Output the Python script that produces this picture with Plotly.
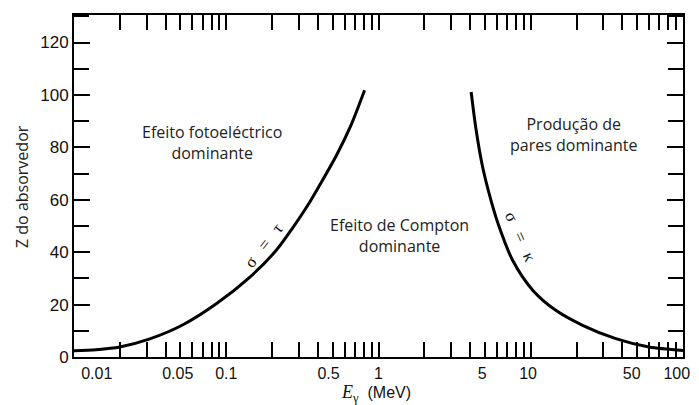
import plotly.graph_objects as go

# ---- data ----
# sigma = tau boundary (photoelectric / Compton)
photo_E = [0.01, 0.014, 0.02, 0.0315, 0.052, 0.086, 0.143, 0.213, 0.274, 0.344, 0.41, 0.53, 0.66, 0.81]
photo_Z = [2.4, 2.8, 3.8, 6.9, 12.3, 20.3, 30.5, 40.7, 49.4, 58.0, 65.5, 77.0, 88.5, 101.8]

# sigma = kappa boundary (Compton / pair production)
pair_E = [4.06, 4.38, 4.83, 5.48, 6.21, 7.6, 10.3, 14.6, 21.9, 36.2, 59.8, 100]
pair_Z = [101.1, 86.5, 72.5, 59.8, 49.6, 36.9, 25.5, 17.8, 12.1, 7.0, 3.8, 2.5]

# axis ticks
x_tick_vals = [m * 10.0 ** d for d in range(-2, 2) for m in range(1, 10)] + [100]
x_tick_labels = ["0.01", "0.05", "0.1", "0.5", "1", "5", "10", "50", "100"]
x_label_pos = [0.0141, 0.048, 0.1, 0.47, 1, 4.8, 9.6, 46, 91]
y_tick_vals = [0, 20, 40, 60, 80, 100, 120]
y_tick_labels = [str(v) for v in y_tick_vals]

region_labels = ["Efeito fotoeléctrico<br>dominante",
                 "Efeito de Compton<br>dominante",
                 "Produção de<br>pares dominante"]
curve_labels = ["σ   =   τ", "σ   =   κ"]
x_title = ("<span style='font-family:Liberation Serif;font-size:18px'><i>E</i><sub>γ</sub></span>"
           "  (MeV)")
y_title = "Z do absorvedor"

fig = go.Figure()
fig.add_trace(go.Scatter(x=photo_E, y=photo_Z, mode="lines",
                         line=dict(color="black", width=3, shape="spline", smoothing=0.8),
                         showlegend=False, hoverinfo="skip"))
fig.add_trace(go.Scatter(x=pair_E, y=pair_Z, mode="lines",
                         line=dict(color="black", width=3, shape="spline", smoothing=0.8),
                         showlegend=False, hoverinfo="skip"))
# invisible trace so the label axis is drawn
fig.add_trace(go.Scatter(x=[0.01, 100], y=[0, 0], xaxis="x2", mode="lines", opacity=0,
                         showlegend=False, hoverinfo="skip"))

tick_font = dict(family="Liberation Sans, Arial", size=17, color="#111")
xtick_font = dict(family="Liberation Sans, Arial", size=16, color="#111")
# the page body has an 8px margin, so the figure is shrunk by 8px and margins shifted
fig.update_layout(
    width=691, height=397,
    margin=dict(l=66, r=16, t=7, b=48),
    plot_bgcolor="white", paper_bgcolor="white",
    xaxis=dict(type="log", range=[-2, 2], showgrid=False, zeroline=False, automargin=False,
               showline=True, linecolor="black", linewidth=2, mirror="ticks",
               ticks="inside", ticklen=15, tickwidth=1.5, tickcolor="black",
               tickmode="array", tickvals=x_tick_vals, showticklabels=False),
    xaxis2=dict(type="log", range=[-2, 2], overlaying="x", side="bottom", anchor="y",
                showgrid=False, zeroline=False, showline=False, automargin=False,
                ticks="outside", ticklen=2, tickcolor="rgba(0,0,0,0)",
                tickmode="array", tickvals=x_label_pos, ticktext=x_tick_labels,
                tickfont=xtick_font),
    yaxis=dict(range=[0, 130.5], showgrid=False, zeroline=False, automargin=False,
               showline=True, linecolor="black", linewidth=2, mirror="ticks",
               ticks="inside", ticklen=16, tickwidth=1.5, tickcolor="black",
               tickmode="array", tickvals=y_tick_vals, ticktext=y_tick_labels,
               minor=dict(dtick=10, ticks="inside", ticklen=15, tickwidth=1.5, tickcolor="black"),
               tickfont=tick_font),
)

fig.add_annotation(x=-0.0854, y=0.5, xref="paper", yref="paper", text=y_title, textangle=-90,
                   showarrow=False, xanchor="center", yanchor="middle",
                   font=dict(family="Open Sans", size=16, color="#222"))
fig.add_annotation(x=0.496, y=-0.107, xref="paper", yref="paper", text=x_title,
                   showarrow=False, xanchor="center", yanchor="middle",
                   font=dict(family="Liberation Sans, Arial", size=16, color="#111"))

ann_font = dict(family="Open Sans", size=16, color="#222")
fig.add_annotation(x=-1.095, y=81.8, xref="x", yref="y", text=region_labels[0], showarrow=False, font=ann_font)
fig.add_annotation(x=0.138, y=46.4, xref="x", yref="y", text=region_labels[1], showarrow=False, font=ann_font)
fig.add_annotation(x=1.279, y=85.0, xref="x", yref="y", text=region_labels[2], showarrow=False, font=ann_font)
greek_font = dict(family="Liberation Serif", size=17, color="#111")
fig.add_annotation(x=-0.754, y=42.6, xref="x", yref="y", text=curve_labels[0], showarrow=False,
                   textangle=-52, font=greek_font)
fig.add_annotation(x=0.931, y=46.0, xref="x", yref="y", text=curve_labels[1], showarrow=False,
                   textangle=66, font=greek_font)

fig.write_html("out.html")
